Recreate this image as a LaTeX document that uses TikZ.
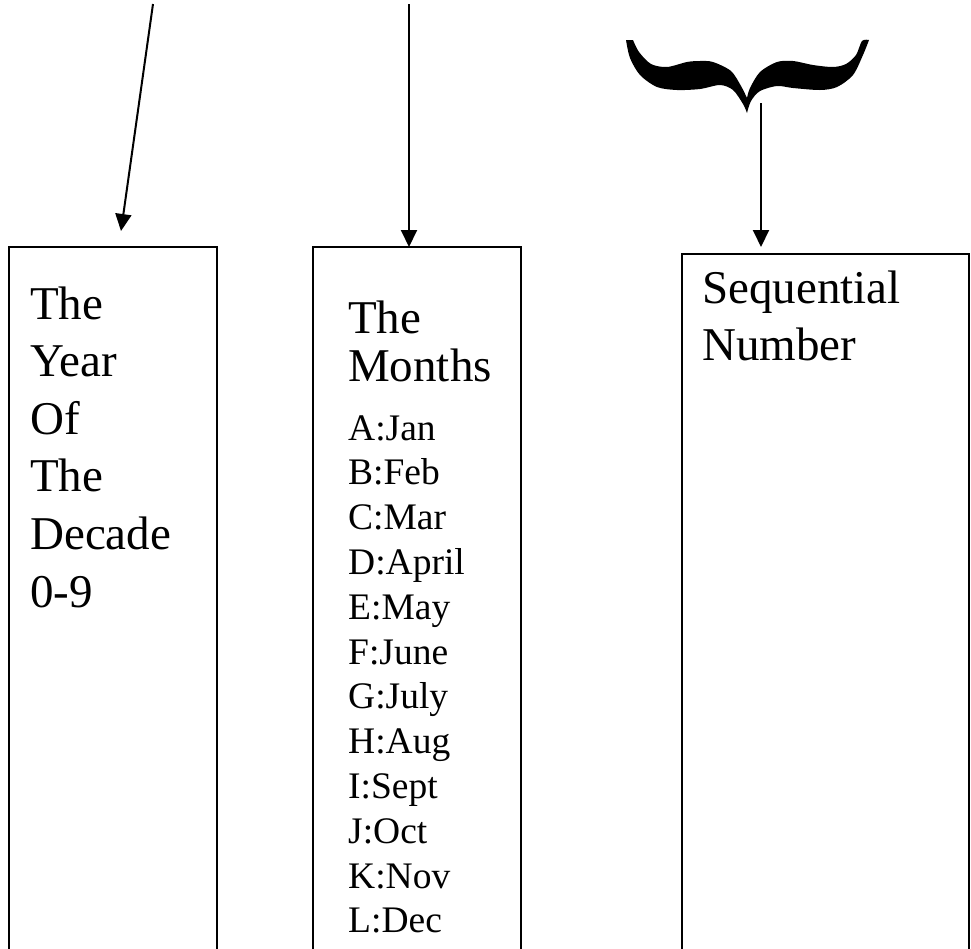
\documentclass[tikz,border=0pt]{standalone}
\usepackage{fontspec}
\setmainfont{Liberation Serif}
\usetikzlibrary{arrows.meta}
\begin{document}
\begin{tikzpicture}[x=1pt,y=-1pt,
  boxnode/.style={draw, line width=2.5pt, anchor=north west, inner sep=0pt, outer sep=0pt, minimum height=800pt},
  arr/.style={line width=2pt, -{Triangle[length=17pt,width=16pt]}},
  big/.style={anchor=base west, inner sep=0pt, font=\fontsize{47}{56}\selectfont},
  small/.style={anchor=base west, inner sep=0pt, font=\fontsize{37.5}{45}\selectfont}]
\useasboundingbox (0,0) rectangle (971,948);
\clip (0,0) rectangle (971,948);
% boxes (open at the bottom of the page)
\node[boxnode, minimum width=208pt] (b1) at (9,247) {};
\node[boxnode, minimum width=208pt] (b2) at (313,247) {};
\node[boxnode, minimum width=287pt] (b3) at (682,254) {};
% box 1 text
\foreach \t [count=\i] in {The,Year,Of,The,Decade,0-9}
  \node[big] (y\i) at (30,{319+57.6*(\i-1)}) {\t};
% box 2 text
\node[big] (m1) at (348,333) {The};
\node[big] (m2) at (348,381) {Months};
\foreach \t [count=\i] in {A:Jan,B:Feb,C:Mar,D:April,E:May,F:June,G:July,H:Aug,I:Sept,J:Oct,K:Nov,L:Dec}
  \node[small] (l\i) at (348,{440+44.8*(\i-1)}) {\t};
% box 3 text
\node[big] (s1) at (702,303) {Sequential};
\node[big] (s2) at (702,360) {Number};
% arrows
\coordinate (a1s) at (153,4); \coordinate (a1e) at (121,231);
\coordinate (a2s) at (409,4); \coordinate (a2e) at (409,247);
\coordinate (a3s) at (761,103); \coordinate (a3e) at (761,247);
\draw[arr] (a1s) -- (a1e);
\draw[arr] (a2s) -- (a2e);
\draw[arr] (a3s) -- (a3e);
% brace
\fill (626,40) -- plot[smooth] coordinates {(626,40)(630,58)(640,75)(657,87)(677,90)(700,89)(720,85)(733,90)(743,104)(747,113)}
 -- plot[smooth] coordinates {(747,113)(751,101)(760,91)(777,86)(793,88)(820,90)(837,87)(853,75)(863,55)(869,40)}
 -- plot[smooth] coordinates {(869,40)(862,41)(856,55)(846,64)(833,67)(813,65)(793,61)(777,62)(760,72)(750,88)(747,98)}
 -- plot[smooth] coordinates {(747,98)(741,86)(731,71)(713,62)(700,61)(687,62)(667,67)(651,64)(639,52)(633,40)} -- cycle;
\end{tikzpicture}
\end{document}
